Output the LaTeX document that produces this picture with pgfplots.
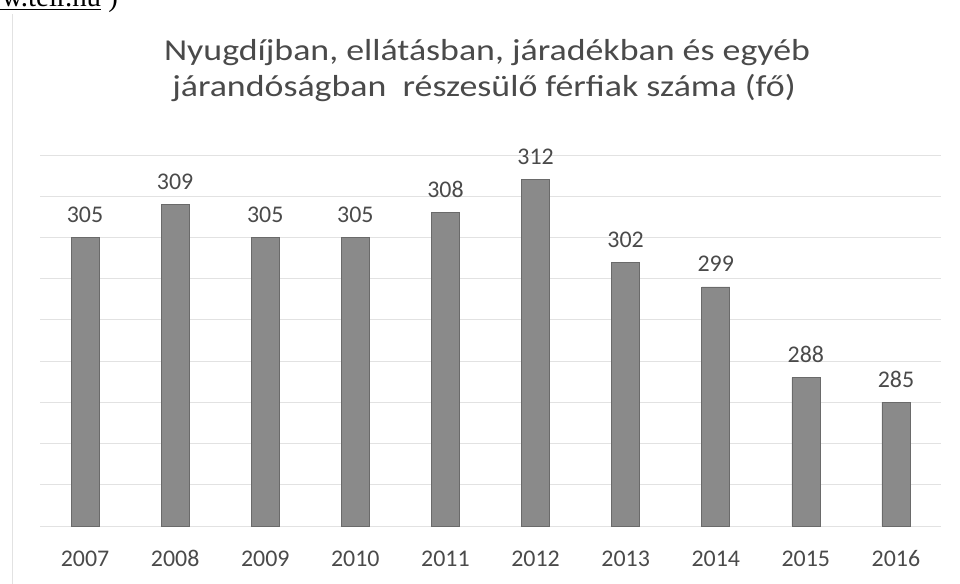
\documentclass[border=0pt]{standalone}
\usepackage{pgfplots}
\pgfplotsset{compat=1.18}
\usepackage{fontspec}
\setmainfont{Carlito}
\newfontfamily\seriffont{Liberation Serif}
\definecolor{bargray}{HTML}{8A8A8A}
\definecolor{barborder}{HTML}{6A6A6A}
\definecolor{gridgray}{HTML}{E2E2E2}
\definecolor{txtgray}{HTML}{4A4A4A}
\begin{document}
\begin{tikzpicture}[x=1bp,y=1bp]
\useasboundingbox (-40,-58) rectangle (920,526);
\draw[gridgray, line width=1bp] (-28,-58) -- (-28,512);
\node[anchor=base west, inner sep=0pt, font=\seriffont\fontsize{29}{29}\selectfont, text=black] at (-80,519) {\underline{www.teir.hu} )};
\begin{axis}[
  at={(0,0)}, anchor=south west,
  scale only axis, width=901bp, height=371bp,
  xmin=-0.5, xmax=9.5, ymin=270, ymax=315,
  ytick={270,275,...,315}, yticklabels={},
  ymajorgrids, grid style={gridgray, line width=0.8bp},
  major tick length=0pt,
  axis line style={draw=none},
  xtick={0,...,9},
  xticklabels={2007,2008,2009,2010,2011,2012,2013,2014,2015,2016},
  xticklabel style={anchor=base, yshift=-41bp, font=\fontsize{24}{24}\selectfont, text=txtgray},
  ybar, bar width=28bp,
  nodes near coords,
  /pgf/number format/assume math mode=true,
  every node near coord/.append style={anchor=base, yshift=15bp, font=\fontsize{24}{24}\selectfont, text=txtgray},
  clip=false,
]
\addplot[fill=bargray, draw=barborder, line width=0.6bp] coordinates {
(0,305) (1,309) (2,305) (3,305) (4,308) (5,312) (6,302) (7,299) (8,288) (9,285)};
\end{axis}
\node[anchor=base, inner sep=0pt, xscale=1.18, font=\fontsize{30.5}{30.5}\selectfont, text=txtgray] at (447,465) {Nyugdíjban, ellátásban, járadékban és egyéb};
\node[anchor=base, inner sep=0pt, xscale=1.18, font=\fontsize{30.5}{30.5}\selectfont, text=txtgray] at (444,429) {járandóságban\ \ részesülő férfiak száma (fő)};
\end{tikzpicture}
\end{document}
